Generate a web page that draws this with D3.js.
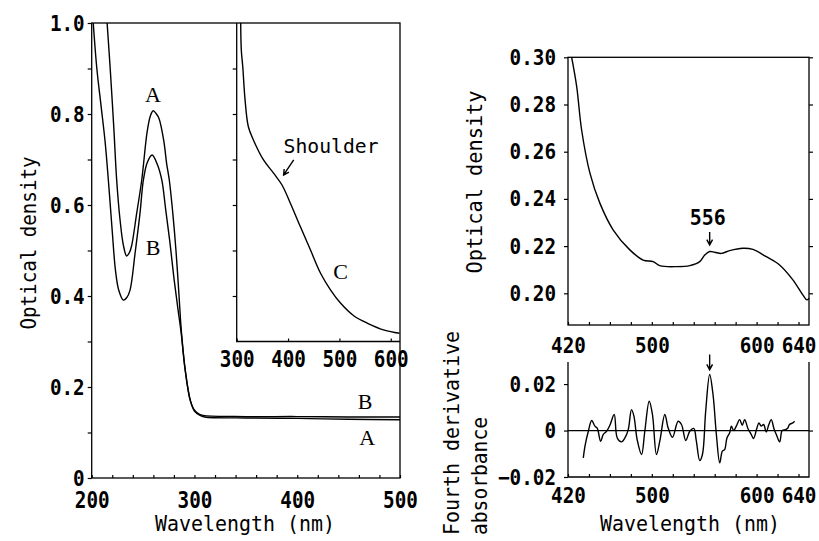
<!DOCTYPE html>
<html>
<head>
<meta charset="utf-8">
<script src="https://cdn.jsdelivr.net/npm/d3@7"></script>
<style>
  body { margin: 0; background: #fff; }
  svg text { font-family: "DejaVu Sans Mono", monospace; fill: #000; }
  .tick text { font-weight: bold; }
  .tick line { stroke: #000; stroke-width: 1.2; }
  .frame { stroke: #000; stroke-width: 1.3; fill: none; }
  .curve { fill: none; stroke: #000; stroke-width: 1.4; stroke-linejoin: round; }
  .letter { font-family: "Liberation Serif", serif; font-size: 22px; }
  .title { font-size: 21px; }
</style>
</head>
<body>
<svg id="chart" width="819" height="541"></svg>
<script>
// UV spectra (left panel), optical density vs wavelength (nm)
const curveA = [[215,1.0],[218,0.9],[221.5,0.77],[224.3,0.655],[227.6,0.567],[230.8,0.512],[234,0.488],[237,0.497],[239,0.512],[243.8,0.582],[248.7,0.655],[253.9,0.76],[257,0.795],[259.8,0.807],[263,0.8],[265.5,0.79],[270,0.743],[273,0.69],[275.5,0.655],[279,0.58],[282,0.5],[285,0.4],[287,0.33],[291,0.237],[296,0.17],[300,0.147],[305,0.138],[310,0.134],[350,0.132],[400,0.131],[450,0.129],[500,0.128]];
const curveB = [[201.5,1.0],[205,0.9],[209,0.82],[213,0.74],[216.2,0.655],[219.9,0.545],[223.1,0.457],[226.3,0.413],[230.8,0.391],[234,0.396],[237.3,0.413],[242.2,0.494],[247,0.582],[250.3,0.655],[254,0.693],[258.8,0.71],[263.7,0.69],[268.2,0.655],[272,0.59],[276,0.52],[280,0.44],[284,0.37],[287,0.32],[291,0.237],[296,0.17],[300,0.149],[305,0.14],[310,0.137],[350,0.135],[400,0.135],[450,0.134],[500,0.134]];
// inset, expanded scale (unlabelled y)
const curveC = [[307.8,1.0],[309,0.94],[311.8,0.904],[316.3,0.831],[322.7,0.772],[332.5,0.743],[352.2,0.699],[371.8,0.67],[388.2,0.644],[404.5,0.604],[424.1,0.552],[443.7,0.501],[463.3,0.45],[482.9,0.413],[502.5,0.384],[528.6,0.356],[554.9,0.34],[587.5,0.325],[617,0.318]];
// visible spectrum (top right)
const visSpectrum = [[423.5,0.30],[428.3,0.2876],[433,0.2692],[441,0.2508],[450.5,0.2381],[463.2,0.2268],[479,0.2184],[491.7,0.2141],[501.3,0.2134],[507.6,0.2117],[523.5,0.2113],[536.2,0.2117],[545.7,0.2134],[550.5,0.2162],[555.2,0.2177],[560,0.2174],[566.4,0.2169],[574.3,0.2181],[587,0.2191],[596.5,0.2186],[609.2,0.2155],[621.9,0.212],[634.6,0.2057],[644.1,0.1993],[648,0.1972],[650,0.198]];
// fourth derivative (bottom right)
const fourthDeriv = [[434.6,-0.0118],[436.2,-0.0067],[439.4,-0.0003],[442.6,0.0043],[445.7,0.0019],[448,0.0009],[451.1,-0.0046],[453.7,-0.0017],[456.8,-0.0003],[460,0.0023],[464.1,0.0069],[467,-0.0032],[471.1,-0.0049],[474.3,-0.0032],[477.5,0.0004],[480.6,0.009],[482.9,0.0062],[486,-0.0039],[490.2,-0.0103],[493.3,-0.0003],[497.5,0.0126],[500.6,0.0069],[504.4,-0.0103],[507.6,-0.0046],[512.4,0.0069],[515.6,0.0011],[519.7,-0.0029],[525.1,0.004],[528.3,0.0026],[532.4,-0.0043],[536.2,-0.0003],[540,0.0009],[542.5,-0.0046],[545.7,-0.0129],[548.3,-0.0103],[551.4,0.0083],[555.2,0.0241],[558.4,0.0155],[561.6,-0.0017],[564.8,-0.0139],[567.3,-0.0089],[569.5,-0.0082],[571.7,-0.0032],[574.3,-0.001],[575.9,0.0019],[578.1,0],[580.6,0.0019],[583.8,0.0047],[586.3,0.0023],[588.6,0.0047],[591.7,0.0009],[594.9,-0.0017],[597.1,-0.0034],[600.3,0.0011],[602.2,0.0033],[604.4,0.0019],[606.7,0.0026],[609.2,-0.0006],[611.7,0.0026],[614,0.0047],[616.5,0.0009],[618.8,-0.0017],[622,-0.0049],[624.4,0],[627.6,0.0004],[629.8,0.0011],[631.4,0.0026],[634.6,0.0033],[636.2,0.004]];

// ticks
const mainXTicks = d3.range(200, 501, 20), mainXLabels = [200, 300, 400, 500];
const mainYTicks = d3.range(0, 1.0001, 0.1), mainYLabels = [0, 0.2, 0.4, 0.6, 0.8, 1.0];
const insetXTicks = [300, 400, 500, 600];
const insetYTicks = [0.4, 0.5, 0.6, 0.7, 0.8, 0.9];
const rightXTicks = d3.range(420, 641, 20), rightXLabels = [420, 500, 600, 640];
const visYTicks = [0.20, 0.22, 0.24, 0.26, 0.28, 0.30];
const derivYTicks = [-0.02, 0, 0.02];

const svg = d3.select('#chart');

// scales
const xMain = d3.scaleLinear().domain([200, 500]).range([91.7, 400]);
const yMain = d3.scaleLinear().domain([0, 1]).range([478, 23]);
const xInset = d3.scaleLinear().domain([300, 618]).range([236.7, 400]);
const yInset = d3.scaleLinear().domain([0.3, 1]).range([341.5, 23]);
const xRight = d3.scaleLinear().domain([420, 650]).range([568, 809]);
const yVis = d3.scaleLinear().domain([0.18657, 0.30]).range([325, 57.3]);
const yDeriv = d3.scaleLinear().domain([-0.02, 0.0295]).range([477, 362]);

function isIn(list, d) { return list.some(v => Math.abs(v - d) < 1e-6); }

// squeeze tick labels into the narrow, tall look of the original
function styleTicks(g, size) {
  g.select('.domain').remove();
  g.selectAll('.tick text').each(function () {
    const t = this.textContent;
    d3.select(this).style('font-size', size + 'px');
    if (t) d3.select(this).attr('textLength', t.length * 11.6).attr('lengthAdjust', 'spacingAndGlyphs');
  });
}

function drawAxis(gen, size) {
  const g = svg.append('g').call(gen);
  styleTicks(g, size);
  return g;
}

// ---- left main panel
svg.append('rect').attr('class', 'frame')
  .attr('x', xMain(200)).attr('y', yMain(1))
  .attr('width', xMain(500) - xMain(200)).attr('height', yMain(0) - yMain(1));

drawAxis(d3.axisLeft(yMain).tickValues(mainYTicks).tickSize(4).tickPadding(3)
  .tickFormat(d => isIn(mainYLabels, d) ? (d === 0 ? '0' : d3.format('.1f')(d)) : ''), 22)
  .attr('transform', `translate(${xMain(200)},0)`);
drawAxis(d3.axisBottom(xMain).tickValues(mainXTicks).tickSize(-3).tickPadding(14)
  .tickFormat(d => isIn(mainXLabels, d) ? d : ''), 23)
  .attr('transform', `translate(0,${yMain(0)})`);

const smooth = d3.curveCatmullRom.alpha(0.5);
const lineMain = d3.line().x(d => xMain(d[0])).y(d => yMain(d[1])).curve(smooth);
svg.append('path').attr('class', 'curve').attr('d', lineMain(curveA));
svg.append('path').attr('class', 'curve').attr('d', lineMain(curveB));

// ---- inset
svg.append('path').attr('class', 'frame')
  .attr('d', `M${xInset(300)},${yInset(1)}V${yInset(0.3)}H${xInset(618)}`);
drawAxis(d3.axisLeft(yInset).tickValues(insetYTicks).tickSize(4).tickFormat(''), 22)
  .attr('transform', `translate(${xInset(300)},0)`);
drawAxis(d3.axisBottom(xInset).tickValues(insetXTicks).tickSize(-3).tickPadding(9), 23)
  .attr('transform', `translate(0,${yInset(0.3)})`);
const lineInset = d3.line().x(d => xInset(d[0])).y(d => yInset(d[1])).curve(smooth);
svg.append('path').attr('class', 'curve').attr('d', lineInset(curveC));

// ---- top right: visible spectrum
svg.append('rect').attr('class', 'frame')
  .attr('x', xRight(420)).attr('y', yVis(0.30))
  .attr('width', xRight(650) - xRight(420)).attr('height', yVis.range()[0] - yVis(0.30));
drawAxis(d3.axisLeft(yVis).tickValues(visYTicks).tickSize(4).tickPadding(8).tickFormat(d3.format('.2f')), 22)
  .attr('transform', `translate(${xRight(420)},0)`);
drawAxis(d3.axisRight(yVis).tickValues(visYTicks).tickSize(4).tickFormat(''), 22)
  .attr('transform', `translate(${xRight(650)},0)`);
drawAxis(d3.axisBottom(xRight).tickValues(rightXTicks).tickSize(-3).tickPadding(12)
  .tickFormat(d => isIn(rightXLabels, d) ? d : ''), 22)
  .attr('transform', `translate(0,${yVis.range()[0]})`);
const lineVis = d3.line().x(d => xRight(d[0])).y(d => yVis(d[1])).curve(smooth);
svg.append('path').attr('class', 'curve').attr('d', lineVis(visSpectrum));

// ---- bottom right: fourth derivative
svg.append('path').attr('class', 'frame')
  .attr('d', `M${xRight(420)},${yDeriv(0.0295)}V${yDeriv(-0.02)}H${xRight(650)}V${yDeriv(0.0295)}`);
svg.append('line').attr('class', 'frame').attr('stroke-width', 1.2)
  .attr('x1', xRight(420)).attr('x2', xRight(650)).attr('y1', yDeriv(0)).attr('y2', yDeriv(0));
drawAxis(d3.axisLeft(yDeriv).tickValues(derivYTicks).tickSize(4).tickPadding(8)
  .tickFormat(d => d === 0 ? '0' : d3.format('.2f')(d)), 22)
  .attr('transform', `translate(${xRight(420)},0)`);
drawAxis(d3.axisRight(yDeriv).tickValues([0]).tickSize(4).tickFormat(''), 22)
  .attr('transform', `translate(${xRight(650)},0)`);
drawAxis(d3.axisBottom(xRight).tickValues(rightXTicks).tickSize(-3).tickPadding(10)
  .tickFormat(d => isIn(rightXLabels, d) ? d : ''), 22)
  .attr('transform', `translate(0,${yDeriv(-0.02)})`);
const lineDeriv = d3.line().x(d => xRight(d[0])).y(d => yDeriv(d[1])).curve(smooth);
svg.append('path').attr('class', 'curve').attr('d', lineDeriv(fourthDeriv));

// ---- annotations
function letter(txt, x, y) {
  svg.append('text').attr('class', 'letter').attr('text-anchor', 'middle').attr('x', x).attr('y', y).text(txt);
}
letter('A', xMain(259.7), yMain(0.826));
letter('B', xMain(259.7), yMain(0.49));
letter('B', xMain(466), yMain(0.152));
letter('A', xMain(468), yMain(0.0725));
letter('C', xInset(502.5), yInset(0.437));

svg.append('text').attr('x', xInset(391.4)).attr('y', yInset(0.714))
  .style('font-size', '19px').attr('textLength', 95).attr('lengthAdjust', 'spacingAndGlyphs').text('Shoulder');
svg.append('text').attr('text-anchor', 'middle').attr('x', xRight(553.3)).attr('y', yVis(0.2289))
  .style('font-size', '22px').style('font-weight', 'bold')
  .attr('textLength', 36).attr('lengthAdjust', 'spacingAndGlyphs').text('556');

function arrow(x1, y1, x2, y2, head) {
  const a = Math.atan2(y2 - y1, x2 - x1);
  const p = d3.path();
  p.moveTo(x1, y1); p.lineTo(x2, y2);
  p.moveTo(x2 - head * Math.cos(a - 0.5), y2 - head * Math.sin(a - 0.5));
  p.lineTo(x2, y2);
  p.lineTo(x2 - head * Math.cos(a + 0.5), y2 - head * Math.sin(a + 0.5));
  svg.append('path').attr('d', p.toString()).attr('fill', 'none').attr('stroke', '#000').attr('stroke-width', 1.4);
}
arrow(xInset(411), yInset(0.699), xInset(391.4), yInset(0.666), 6);
arrow(xRight(555.2), yVis(0.226), xRight(555.2), yVis(0.2205), 6);
arrow(xRight(555.2), yDeriv(0.0327), xRight(555.2), yDeriv(0.0262), 6);

// ---- axis titles
svg.append('text').attr('class', 'title').attr('text-anchor', 'middle')
  .attr('x', 245).attr('y', 531).attr('textLength', 180).attr('lengthAdjust', 'spacingAndGlyphs')
  .text('Wavelength (nm)');
svg.append('text').attr('class', 'title').attr('text-anchor', 'middle')
  .attr('x', 690).attr('y', 531).attr('textLength', 180).attr('lengthAdjust', 'spacingAndGlyphs')
  .text('Wavelength (nm)');
svg.append('text').attr('class', 'title').attr('text-anchor', 'middle')
  .attr('transform', 'translate(29,243) rotate(-90)').attr('dy', '0.35em')
  .attr('textLength', 173).attr('lengthAdjust', 'spacingAndGlyphs').text('Optical density');
svg.append('text').attr('class', 'title').attr('text-anchor', 'middle')
  .attr('transform', 'translate(475,182) rotate(-90)').attr('dy', '0.35em')
  .attr('textLength', 183).attr('lengthAdjust', 'spacingAndGlyphs').text('Optical density');
svg.append('text').attr('class', 'title')
  .attr('transform', 'translate(452,535) rotate(-90)').attr('dy', '0.35em')
  .attr('textLength', 204).attr('lengthAdjust', 'spacingAndGlyphs').text('Fourth derivative');
svg.append('text').attr('class', 'title')
  .attr('transform', 'translate(480,535) rotate(-90)').attr('dy', '0.35em')
  .attr('textLength', 118).attr('lengthAdjust', 'spacingAndGlyphs').text('absorbance');
</script>
</body>
</html>
